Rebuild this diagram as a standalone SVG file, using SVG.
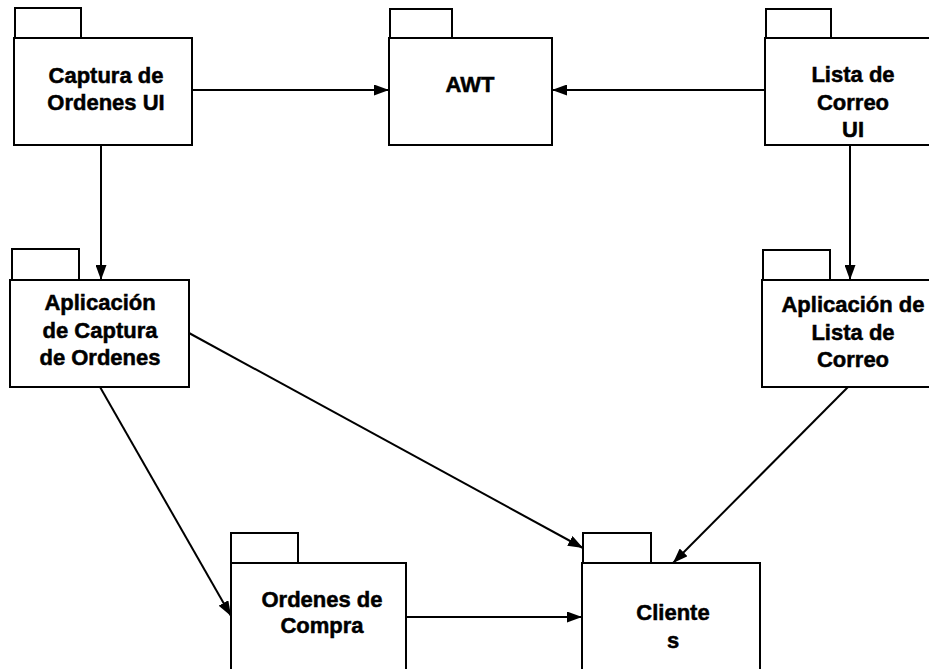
<svg xmlns="http://www.w3.org/2000/svg" width="929" height="669" viewBox="0 0 929 669">
  <style>
    .pkg { fill: #ffffff; stroke: #000000; stroke-width: 2; }
    .lbl { font-family: "Liberation Sans", Arial, sans-serif; font-weight: bold; font-size: 22px; fill: #000000; stroke: #000000; stroke-width: 0.5; text-anchor: middle; }
    .dep { fill: none; stroke: #000000; stroke-width: 2; marker-end: url(#head); }
  </style>
  <defs>
    <marker id="head" viewBox="0 0 15 11" refX="15" refY="5.5" markerWidth="15" markerHeight="11" markerUnits="userSpaceOnUse" orient="auto">
      <path d="M0,0 L15,5.5 L0,11 Z" fill="#000000"/>
    </marker>
  </defs>
  <rect width="929" height="669" fill="#ffffff"/>

  <!-- Package: Captura de Ordenes UI -->
  <g id="captura-ui">
    <rect class="pkg" x="15" y="8" width="66" height="30"/>
    <rect class="pkg" x="14" y="38" width="178" height="107"/>
    <text class="lbl" x="106" y="83">Captura de</text>
    <text class="lbl" x="106" y="110">Ordenes UI</text>
  </g>

  <!-- Package: AWT -->
  <g id="awt">
    <rect class="pkg" x="390" y="9" width="62" height="29"/>
    <rect class="pkg" x="389" y="38" width="163" height="107"/>
    <text class="lbl" x="470" y="92">AWT</text>
  </g>

  <!-- Package: Lista de Correo UI -->
  <g id="lista-ui">
    <rect class="pkg" x="766" y="9" width="65" height="29"/>
    <rect class="pkg" x="765" y="38" width="190" height="107"/>
    <text class="lbl" x="853" y="82">Lista de</text>
    <text class="lbl" x="853" y="110">Correo</text>
    <text class="lbl" x="853" y="137">UI</text>
  </g>

  <!-- Package: Aplicación de Captura de Ordenes -->
  <g id="app-captura">
    <rect class="pkg" x="12" y="249" width="67" height="31"/>
    <rect class="pkg" x="10" y="280" width="179" height="107"/>
    <text class="lbl" x="100" y="310">Aplicación</text>
    <text class="lbl" x="100" y="338">de Captura</text>
    <text class="lbl" x="100" y="365">de Ordenes</text>
  </g>

  <!-- Package: Aplicación de Lista de Correo -->
  <g id="app-lista">
    <rect class="pkg" x="763" y="250" width="67" height="30"/>
    <rect class="pkg" x="762" y="280" width="190" height="107"/>
    <text class="lbl" x="853" y="312">Aplicación de</text>
    <text class="lbl" x="853" y="340">Lista de</text>
    <text class="lbl" x="853" y="367">Correo</text>
  </g>

  <!-- Package: Ordenes de Compra -->
  <g id="ordenes-compra">
    <rect class="pkg" x="231" y="533" width="67" height="30"/>
    <rect class="pkg" x="231" y="563" width="175" height="120"/>
    <text class="lbl" x="322" y="607">Ordenes de</text>
    <text class="lbl" x="322" y="633">Compra</text>
  </g>

  <!-- Package: Clientes -->
  <g id="clientes">
    <rect class="pkg" x="583" y="533" width="68" height="30"/>
    <rect class="pkg" x="582" y="563" width="178" height="120"/>
    <text class="lbl" x="673" y="620">Cliente</text>
    <text class="lbl" x="673" y="648">s</text>
  </g>

  <!-- Dependencies -->
  <g id="connectors">
    <line class="dep" x1="192" y1="90" x2="389" y2="90"/>
    <line class="dep" x1="765" y1="90" x2="552" y2="90"/>
    <line class="dep" x1="101" y1="145" x2="101" y2="280"/>
    <line class="dep" x1="850" y1="145" x2="850" y2="280"/>
    <line class="dep" x1="189" y1="333" x2="583" y2="548"/>
    <line class="dep" x1="100" y1="387" x2="231" y2="616"/>
    <line class="dep" x1="848" y1="387" x2="673" y2="563"/>
    <line class="dep" x1="406" y1="617" x2="582" y2="617"/>
  </g>
</svg>
